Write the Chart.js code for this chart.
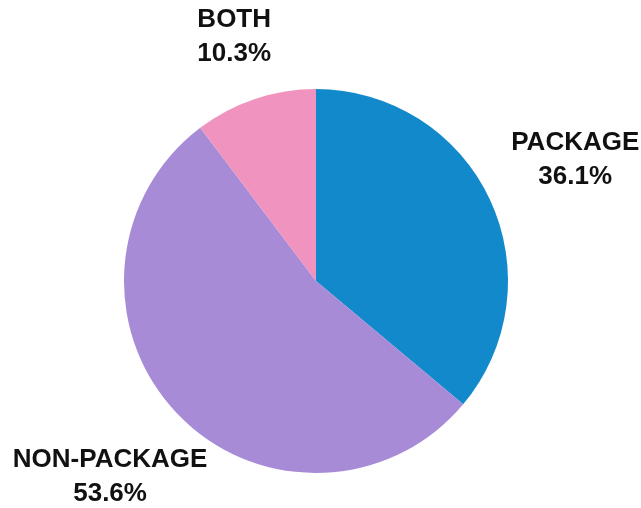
<!DOCTYPE html>
<html>
<head>
<meta charset="utf-8">
<script src="https://cdn.jsdelivr.net/npm/chart.js@4/dist/chart.umd.min.js"></script>
<style>
  html, body { margin: 0; padding: 0; background: #fff; }
  #wrap { width: 641px; height: 508px; position: relative; }
</style>
</head>
<body>
<div id="wrap"><canvas id="pie-chart"></canvas></div>
<script>
const categories = ['PACKAGE', 'NON-PACKAGE', 'BOTH'];
const shares = [36.1, 53.6, 10.3];
const sliceColors = ['#1289cb', '#a78bd7', '#f193bf'];

// how far out each label sits, as a multiple of the pie radius
const labelDistance = [1.49, 1.48, 1.34];

const outsideLabels = {
    id: 'outsideLabels',
    afterDraw(chart) {
        const ctx = chart.ctx;
        const arcs = chart.getDatasetMeta(0).data;
        ctx.save();
        ctx.font = 'bold 26px "Liberation Sans", Arial, sans-serif';
        ctx.fillStyle = '#111';
        ctx.textAlign = 'center';
        ctx.textBaseline = 'middle';
        arcs.forEach((arc, i) => {
            const mid = (arc.startAngle + arc.endAngle) / 2;
            const r = arc.outerRadius * labelDistance[i];
            const x = arc.x + Math.cos(mid) * r;
            const y = arc.y + Math.sin(mid) * r;
            ctx.fillText(categories[i], x, y - 17);
            ctx.fillText(shares[i].toFixed(1) + '%', x, y + 17);
        });
        ctx.restore();
    }
};

document.addEventListener('DOMContentLoaded', () => {
    const ctx = document.getElementById('pie-chart').getContext('2d');
    new Chart(ctx, {
        type: 'pie',
        data: {
            labels: categories,
            datasets: [{
                data: shares,
                backgroundColor: sliceColors,
                borderWidth: 0
            }]
        },
        options: {
            responsive: true,
            maintainAspectRatio: false,
            animation: false,
            layout: { padding: { top: 89, bottom: 35, left: 124, right: 133 } },
            plugins: {
                legend: { display: false },
                tooltip: { enabled: false }
            }
        },
        plugins: [outsideLabels]
    });
});
</script>
</body>
</html>
